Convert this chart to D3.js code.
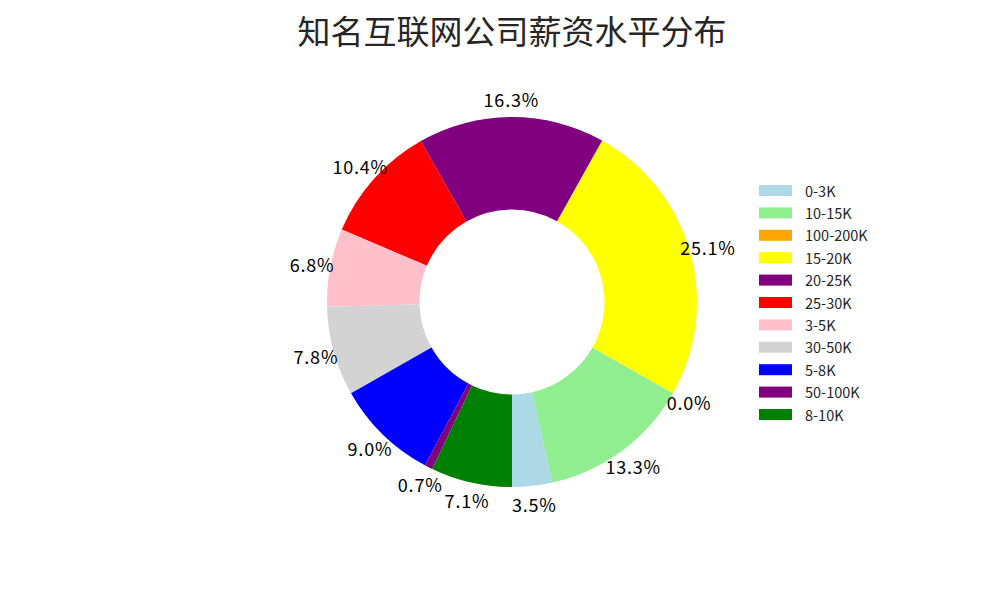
<!DOCTYPE html>
<html>
<head>
<meta charset="utf-8">
<script src="https://cdn.jsdelivr.net/npm/d3@7"></script>
<style>
  body { margin: 0; background: #fff; }
  text { font-family: "Noto Sans CJK SC", "DejaVu Sans", sans-serif; }
</style>
</head>
<body>
<div id="chart"></div>
<script>
(function() {
  var categories = ['0-3K', '10-15K', '100-200K', '15-20K', '20-25K', '25-30K',
                    '3-5K', '30-50K', '5-8K', '50-100K', '8-10K'];
  var shares = [3.5, 13.3, 0.0, 25.1, 16.3, 10.4, 6.8, 7.8, 9.0, 0.7, 7.1];
  var colours = ['#add8e6', '#90ee90', '#ffa500', '#ffff00', '#800080', '#ff0000',
                 '#ffc0cb', '#d3d3d3', '#0000ff', '#800080', '#008000'];
  var title = '知名互联网公司薪资水平分布';

  var width = 1000, height = 600;
  var cx = 512, cy = 302, radius = 185;

  var svg = d3.select('#chart')
            .append('svg')
            .attr('width', width)
            .attr('height', height);

  svg.append('text')
    .attr('x', 512)
    .attr('y', 30)
    .attr('text-anchor', 'middle')
    .attr('dominant-baseline', 'central')
    .attr('font-size', 33)
    .attr('fill', '#262626')
    .text(title);

  // start at the bottom, run counter-clockwise like matplotlib
  var pie = d3.pie()
    .sort(null)
    .startAngle(Math.PI)
    .endAngle(-Math.PI);

  var arcs = pie(shares);

  var arc = d3.arc()
    .innerRadius(radius * 0.5)
    .outerRadius(radius);

  var labelArc = d3.arc()
    .innerRadius(radius * 1.1)
    .outerRadius(radius * 1.1);

  var g = svg.append('g')
    .attr('transform', 'translate(' + cx + ',' + cy + ')');

  g.selectAll('path')
    .data(arcs)
    .enter()
    .append('path')
    .attr('d', arc)
    .attr('fill', function(d, i) { return colours[i]; });

  g.selectAll('text.pct')
    .data(arcs)
    .enter()
    .append('text')
    .attr('class', 'pct')
    .attr('transform', function(d) {
      return 'translate(' + labelArc.centroid(d) + ')';
    })
    .attr('text-anchor', 'middle')
    .attr('dominant-baseline', 'central')
    .attr('font-size', 18)
    .attr('letter-spacing', 0.8)
    .attr('fill', '#000')
    .text(function(d) { return d.data.toFixed(1) + '%'; });

  var legend = svg.append('g')
    .attr('transform', 'translate(759,190)');

  var rowHeight = 22.4;

  legend.selectAll('rect')
    .data(categories)
    .enter()
    .append('rect')
    .attr('x', 0)
    .attr('y', function(d, i) { return i * rowHeight - 5; })
    .attr('width', 33)
    .attr('height', 11)
    .attr('fill', function(d, i) { return colours[i]; });

  legend.selectAll('text')
    .data(categories)
    .enter()
    .append('text')
    .attr('x', 46)
    .attr('y', function(d, i) { return i * rowHeight; })
    .attr('dominant-baseline', 'central')
    .attr('font-size', 14.5)
    .attr('fill', '#262626')
    .text(function(d) { return d; });
}());
</script>
</body>
</html>
